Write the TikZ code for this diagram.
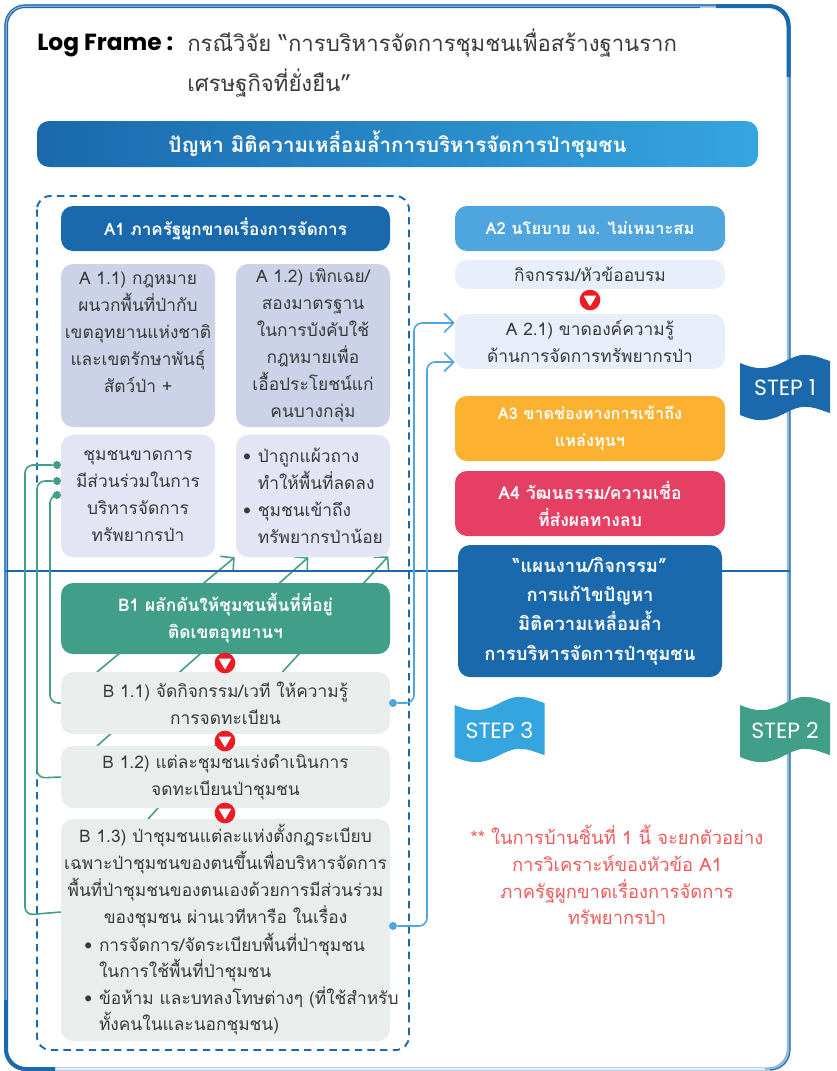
\documentclass[tikz,border=0pt]{standalone}
\usepackage{fontspec}
\setmainfont[Script=Thai]{Loma}
\newfontfamily\latinfont{Poppins}
\usetikzlibrary{arrows.meta,backgrounds}
\definecolor{deepblue}{RGB}{26,105,173}
\definecolor{midblue}{RGB}{79,165,221}
\definecolor{skyblue}{RGB}{53,165,224}
\definecolor{framelight}{RGB}{148,183,219}
\definecolor{framepale}{RGB}{230,238,247}
\definecolor{forest}{RGB}{65,158,136}
\definecolor{amber}{RGB}{253,177,49}
\definecolor{rosered}{RGB}{229,63,99}
\definecolor{alertred}{RGB}{237,28,36}
\definecolor{notered}{RGB}{241,90,90}
\definecolor{slatefill}{RGB}{204,211,232}
\definecolor{lilacfill}{RGB}{227,229,244}
\definecolor{greyfill}{RGB}{233,238,237}
\definecolor{paleblue}{RGB}{233,239,250}
\definecolor{ink}{RGB}{58,58,58}
\tikzset{
  wh/.style 2 args={minimum width=#1*0.75pt,minimum height=#2*0.75pt},
  panel/.style={rounded corners=9pt,inner sep=0pt,align=center,text=ink,font=\fontsize{13}{20.25}\selectfont},
  head/.style={panel,text=white,font=\bfseries\fontsize{12.8}{20.25}\selectfont},
  downmark/.style={circle,fill=alertred,minimum size=15.5pt,inner sep=0pt},
  greenlink/.style={draw=forest,line width=1.2pt,rounded corners=6pt},
  bluelink/.style={draw=midblue,line width=1.2pt,rounded corners=6pt,-{Straight Barb[length=7pt,width=14pt]}},
  rise/.style={draw=forest,line width=1.2pt,-{Straight Barb[length=7pt,width=15pt]}},
  greendot/.style={circle,fill=forest,minimum size=6pt,inner sep=0pt},
  bluedot/.style={circle,fill=midblue,minimum size=6pt,inner sep=0pt}
}
\newcommand{\bul}{\makebox[0.85em][l]{•}}
\newcommand{\hang}{\hspace*{0.85em}}
\begin{document}
\begin{tikzpicture}[x=0.75pt,y=0.75pt,yscale=-1,xscale=1]
\useasboundingbox (0,0) rectangle (837,1071);

%Title
\node [anchor=north west,inner sep=0pt,font=\latinfont\bfseries\fontsize{17.5}{30}\selectfont] (logframe) at (37,34) {Log Frame :};
\node [anchor=north west,inner sep=0pt,align=left,text=ink,font=\fontsize{16.6}{30}\selectfont] (casetitle) at (187,28) {กรณีวิจัย “การบริหารจัดการชุมชนเพื่อสร้างฐานราก\\เศรษฐกิจที่ยั่งยืน”};

%Banner
\node [head,wh={721}{46},left color=deepblue,right color=skyblue,font=\bfseries\fontsize{15.4}{20}\selectfont] (banner) at (397.5,144) {ปัญหา มิติความเหลื่อมล้ำการบริหารจัดการป่าชุมชน};

%Left column
\node [head,wh={329}{45},fill=deepblue] (a1) at (225.5,228.5) {A1 ภาครัฐผูกขาดเรื่องการจัดการ};
\node [panel,wh={154}{163},fill=slatefill] (a11) at (138,345.5) {A 1.1) กฎหมาย\\ผนวกพื้นที่ป่ากับ\\เขตอุทยานแห่งชาติ\\และเขตรักษาพันธุ์\\สัตว์ป่า +\\~};
\node [panel,wh={154}{163},fill=slatefill] (a12) at (313,345.5) {A 1.2) เพิกเฉย/\\สองมาตรฐาน\\ในการบังคับใช้\\กฎหมายเพื่อ\\เอื้อประโยชน์แก่\\คนบางกลุ่ม};
\node [panel,wh={154}{122},fill=lilacfill] (c11) at (138,496) {ชุมชนขาดการ\\มีส่วนร่วมในการ\\บริหารจัดการ\\ทรัพยากรป่า};
\node [panel,wh={154}{122},fill=lilacfill,align=left] (c12) at (313,496) {\bul ป่าถูกแผ้วถาง\\\hang ทำให้พื้นที่ลดลง\\\bul ชุมชนเข้าถึง\\\hang ทรัพยากรป่าน้อย};
\node [head,wh={329}{71},fill=forest,font=\bfseries\fontsize{13}{20.25}\selectfont] (b1) at (225.5,618.5) {B1 ผลักดันให้ชุมชนพื้นที่ที่อยู่\\ติดเขตอุทยานฯ};
\node [panel,wh={329}{62},fill=greyfill] (b11) at (225.5,703) {B 1.1) จัดกิจกรรม/เวที ให้ความรู้\\การจดทะเบียน};
\node [panel,wh={329}{62},fill=greyfill] (b12) at (225.5,777) {B 1.2) แต่ละชุมชนเร่งดำเนินการ\\จดทะเบียนป่าชุมชน};
\node [panel,wh={329}{222},fill=greyfill] (b13) at (225.5,930) {};
\node [panel] (b13top) at (225.5,876) {B 1.3) ป่าชุมชนแต่ละแห่งตั้งกฎระเบียบ\\เฉพาะป่าชุมชนของตนขึ้นเพื่อบริหารจัดการ\\พื้นที่ป่าชุมชนของตนเองด้วยการมีส่วนร่วม\\ของชุมชน ผ่านเวทีหารือ ในเรื่อง};
\node [panel,align=left,anchor=west,font=\fontsize{13}{19.9}\selectfont] (b13list) at (84,984) {\bul การจัดการ/จัดระเบียบพื้นที่ป่าชุมชน\\\hang ในการใช้พื้นที่ป่าชุมชน\\\bul ข้อห้าม และบทลงโทษต่างๆ (ที่ใช้สำหรับ\\\hang ทั้งคนในและนอกชุมชน)};

%Right column
\node [head,wh={270}{45},fill=midblue,font=\bfseries\fontsize{12.4}{20}\selectfont] (a2) at (590,228.5) {A2 นโยบาย นง. ไม่เหมาะสม};
\node [panel,wh={270}{29},fill=paleblue] (a2topic) at (590,274.5) {กิจกรรม/หัวข้ออบรม};
\node [panel,wh={270}{55},fill=paleblue] (a21) at (590,341.5) {A 2.1) ขาดองค์ความรู้\\ด้านการจัดการทรัพยากรป่า};
\node [head,wh={270}{65},fill=amber,font=\bfseries\fontsize{12.2}{20.25}\selectfont] (a3) at (590,428.5) {A3 ขาดช่องทางการเข้าถึง\\แหล่งทุนฯ};
\node [head,wh={270}{65},fill=rosered,font=\bfseries\fontsize{13.2}{20.25}\selectfont] (a4) at (590,503.5) {A4 วัฒนธรรม/ความเชื่อ\\ที่ส่งผลทางลบ};
\node [head,wh={264}{132},fill=deepblue,font=\bfseries\fontsize{13.8}{22}\selectfont] (plan) at (590,611) {“แผนงาน/กิจกรรม”\\การแก้ไขปัญหา\\มิติความเหลื่อมล้ำ\\การบริหารจัดการป่าชุมชน};
\node [panel,text=notered,fill=none,font=\fontsize{13.8}{20}\selectfont] (homework) at (617,875) {** ในการบ้านชิ้นที่ 1 นี้ จะยกตัวอย่าง\\การวิเคราะห์ของหัวข้อ A1\\ภาครัฐผูกขาดเรื่องการจัดการ\\ทรัพยากรป่า};

%Red marks
\foreach \nm/\px/\py in {1/590/300,2/225/663,3/225/741,4/225/813}{
  \node [downmark] (mark\nm) at (\px,\py) {};
  \fill [white,rounded corners=0.6pt] (\px-6.5,\py-4.5) -- (\px+6.5,\py-4.5) -- (\px,\py+6.5) -- cycle;
}

%Dots
\node [greendot] (dot1) at (57,465) {};
\node [greendot] (dot2) at (57,481) {};
\node [greendot] (dot3) at (57,495) {};
\node [bluedot] (dot4) at (393,703) {};
\node [bluedot] (dot5) at (393,926) {};

%Links back to the community box
\draw [greenlink] (dot1) -- (25,465) -- (25,915) -- ([yshift=-13.5pt]b13.west);
\draw [greenlink] (dot2) -- (37,481) -- (37,778) -- (b12.west);
\draw [greenlink] (dot3) -- (50,495) -- (50,703) -- (b11.west);

%Links to A 2.1
\draw [bluelink] (dot4) -- (414,703) -- (414,323) -- ([yshift=-13.9pt]a21.west);
\draw [bluelink] (dot5) -- (427,926) -- (427,362) -- ([yshift=15.4pt]a21.west);

\begin{scope}[on background layer]
%Frame
\draw [framelight,line width=2.6pt,rounded corners=15pt] (6,6) rectangle (788.5,1069);
\draw [framepale,line width=1.6pt] (30,1069) -- (765,1069);
\draw [deepblue,line width=0.8pt,rounded corners=15pt] (770,1070) -- (790,1070) -- (790,5) -- (5,5) -- (5,1070) -- (25,1070);
\draw [deepblue,line width=0.8pt,rounded corners=13pt] (7.5,1000) -- (7.5,7.5) -- (700,7.5);
\draw [deepblue,line width=3pt,rounded corners=15pt] (716,6) -- (788.5,6) -- (788.5,77);
\draw [deepblue,line width=3pt,rounded corners=15pt] (6,1000) -- (6,1069) -- (55,1069);
%Dashed group
\draw [deepblue,line width=1.4pt,dash pattern=on 5.5pt off 4pt,rounded corners=10pt] (37,196) rectangle (409,1050);
%Rising arrows
\coordinate (start1) at (97,672);
\coordinate (start2) at (97,746);
\coordinate (start3) at (148,819);
\draw [rise] (start1) -- ([xshift=-0.75pt]c12.south west);
\draw [rise] (start2) -- ([xshift=-3.5pt]c12.south);
\draw [rise] (start3) -- ([xshift=-1.5pt,yshift=-0.75pt]c12.south east);
%Divider
\draw [deepblue,line width=2pt] (5,571) -- (plan.west |- 0,571) (plan.east |- 0,571) -- (790,571);
\end{scope}

%Step flags
\foreach \nm/\px/\py/\col/\lab in {1/785/388/deepblue/{STEP 1},2/785/730/forest/{STEP 2},3/499.5/730/skyblue/{STEP 3}}{
  \begin{scope}[shift={(\px,\py)}]
    \fill [\col] (-45,-25) .. controls (-30,-19) and (-22,-18) .. (-8,-23) .. controls (5,-29) and (12,-34) .. (22,-33) .. controls (30,-33) and (38,-29) .. (45,-27) -- (45,25) .. controls (38,23) and (30,19) .. (22,19) .. controls (12,18) and (5,23) .. (-8,29) .. controls (-22,34) and (-30,33) .. (-45,27) -- cycle;
    \node [text=white,font=\latinfont\fontsize{16.5}{18}\selectfont] (step\nm) at (0,0) {\lab};
  \end{scope}
}
\end{tikzpicture}
\end{document}
